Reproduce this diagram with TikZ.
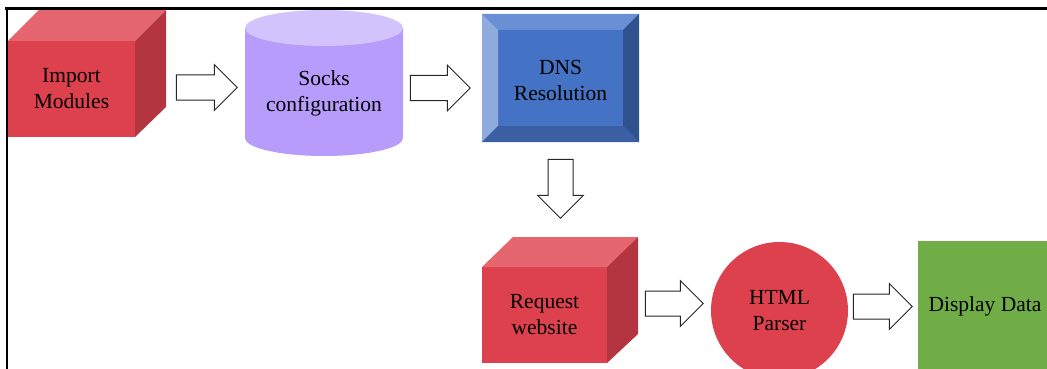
\documentclass[tikz,border=0pt]{standalone}
\usepackage{fontspec}
\setmainfont{Liberation Serif}
\usetikzlibrary{shapes.arrows,calc}

\definecolor{cubefront}{HTML}{DD414D}
\definecolor{cubetop}{HTML}{E5666F}
\definecolor{cubeside}{HTML}{B3353F}
\definecolor{cylbody}{HTML}{B79CFB}
\definecolor{cyltop}{HTML}{D3C3FC}
\definecolor{dnsface}{HTML}{4472C4}
\definecolor{dnstop}{HTML}{6A8FD5}
\definecolor{dnsleft}{HTML}{8FAADC}
\definecolor{dnsright}{HTML}{2F528F}
\definecolor{dnsbottom}{HTML}{3B5FA3}
\definecolor{parserred}{HTML}{DD414D}
\definecolor{displaygreen}{HTML}{70AD47}

\begin{document}
\begin{tikzpicture}[x=1pt,y=-1pt,
  every node/.style={font=\fontsize{21.5}{26}\selectfont, align=center,
    inner sep=0pt, outer sep=0pt},
  cubeface/.style={fill=cubefront},
  cubetopface/.style={fill=cubetop},
  cubesideface/.style={fill=cubeside},
  blockarrow/.style={single arrow, draw=black!85, fill=white, line width=1pt,
    inner xsep=0pt, inner ysep=12pt, single arrow head extend=10.5pt,
    single arrow tip angle=90, single arrow head indent=0pt},
  framerule/.style={draw=black, line cap=rect},
]
\useasboundingbox (0,0) rectangle (1047,369);
\clip (0,0) rectangle (1047,369);

% Import Modules cube
\node[cubeface, minimum width=127pt, minimum height=96pt] (im) at (71.5,89) {Import\\Modules};
\fill[cubetopface] (im.north west) -- ++(31pt,31pt) -- ($(im.north east)+(31pt,31pt)$) -- (im.north east) -- cycle;
\fill[cubesideface] (im.north east) -- ++(31pt,31pt) -- ($(im.south east)+(31pt,30pt)$) -- (im.south east) -- cycle;

% Socks configuration cylinder
\fill[cylbody] (245,28) -- (245,138)
  arc[start angle=180, end angle=360, x radius=79pt, y radius=18pt] -- (403,28) -- cycle;
\fill[cyltop] (324,28) ellipse [x radius=79pt, y radius=18pt];
\node (sc) at (324,93) {Socks\\configuration};

% DNS Resolution bevelled box
\node[fill=dnsface, minimum width=157pt, minimum height=128pt] (dns) at (560.5,78) {};
\fill[dnstop] (dns.north west) -- (dns.north east) -- ($(dns.north east)+(-16pt,-16pt)$) -- ($(dns.north west)+(16pt,-16pt)$) -- cycle;
\fill[dnsleft] (dns.north west) -- ($(dns.north west)+(16pt,-16pt)$) -- ($(dns.south west)+(16pt,16pt)$) -- (dns.south west) -- cycle;
\fill[dnsright] (dns.north east) -- ($(dns.north east)+(-16pt,-16pt)$) -- ($(dns.south east)+(-16pt,16pt)$) -- (dns.south east) -- cycle;
\fill[dnsbottom] (dns.south west) -- ($(dns.south west)+(16pt,16pt)$) -- ($(dns.south east)+(-16pt,16pt)$) -- (dns.south east) -- cycle;
\node (dnstext) at (560.5,80) {DNS\\Resolution};

% Request website cube
\node[cubeface, minimum width=125pt, minimum height=96pt] (rw) at (544.5,315) {Request\\website};
\fill[cubetopface] (rw.north west) -- ++(31pt,30pt) -- ($(rw.north east)+(31pt,30pt)$) -- (rw.north east) -- cycle;
\fill[cubesideface] (rw.north east) -- ++(31pt,30pt) -- ($(rw.south east)+(31pt,29pt)$) -- (rw.south east) -- cycle;

% HTML Parser circle
\node[circle, fill=parserred, minimum size=137pt] (hp) at (779.5,310.5) {HTML\\Parser};

% Display Data box
\node[fill=displaygreen, minimum width=134pt, minimum height=130pt] (dd) at (985,306) {Display Data};

% block arrows between the steps
\node[blockarrow, minimum height=61pt] (a1) at (200.5,87.5) {};
\node[blockarrow, minimum height=60pt] (a2) at (434,88) {};
\node[blockarrow, minimum height=59pt, rotate=-90] (a3) at (560.5,182.5) {};
\node[blockarrow, minimum height=58pt] (a4) at (668,303.5) {};
\node[blockarrow, minimum height=59pt] (a5) at (876.5,306.5) {};

% frame rules
\draw[framerule, line width=2.7pt] (6,8.7) -- (1047,8.7);
\draw[framerule, line width=2pt] (7,8) -- (7,369);
\end{tikzpicture}
\end{document}
